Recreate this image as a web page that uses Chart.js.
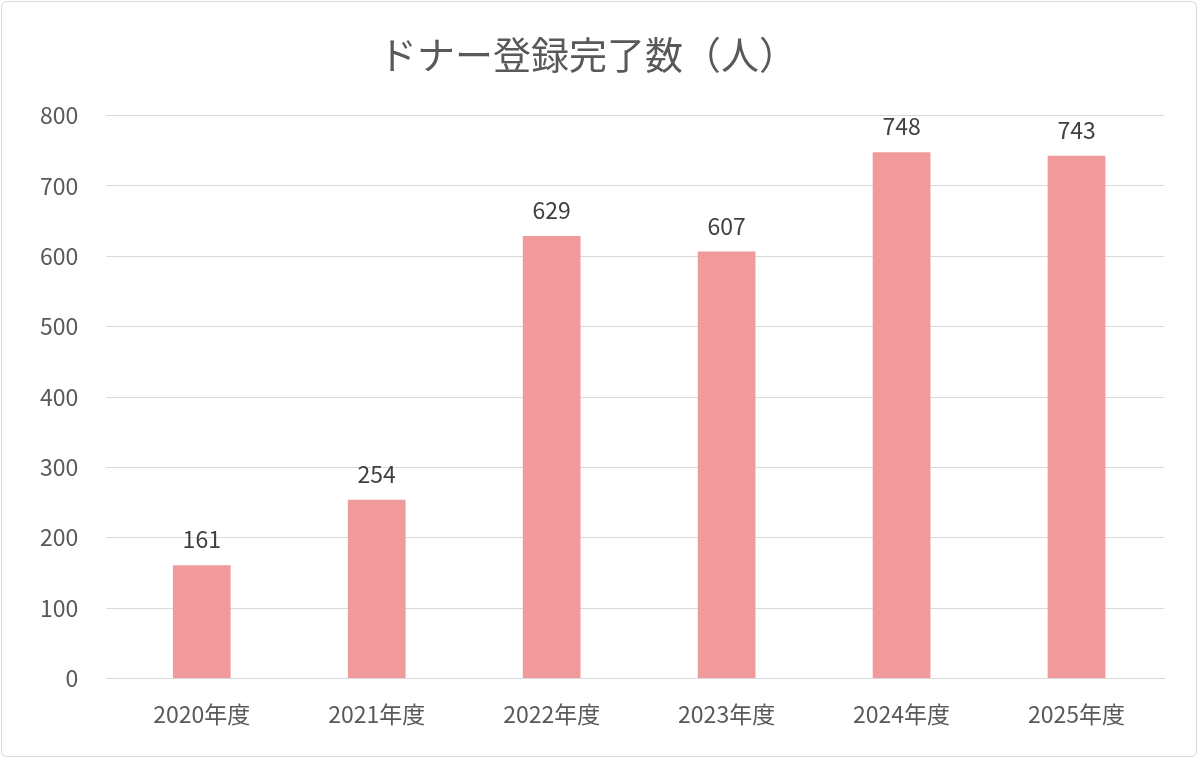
<!DOCTYPE html>
<html><head><meta charset="utf-8">
<script src="https://cdn.jsdelivr.net/npm/chart.js@4"></script>
<style>
html,body{margin:0;padding:0;background:#fff;}
#wrap{position:absolute;left:1px;top:1px;width:1196px;height:756px;border:1px solid #d9d9d9;border-radius:6px;box-sizing:border-box;}
canvas{display:block;}
</style></head>
<body><div id="wrap"><canvas id="c" width="1194" height="754"></canvas></div>
<script>
const categories = ["2020年度","2021年度","2022年度","2023年度","2024年度","2025年度"];
const values = [161, 254, 629, 607, 748, 743];
const yTicks = [0,100,200,300,400,500,600,700,800];
const FONT = "'Noto Sans CJK JP','Noto Sans',sans-serif";
const labelPlugin = {
  id:'vals',
  afterDatasetsDraw(chart){
    const ctx = chart.ctx;
    const meta = chart.getDatasetMeta(0);
    ctx.save();
    ctx.font = "23px " + FONT;
    ctx.fillStyle = "#404040";
    ctx.textAlign = "center";
    ctx.textBaseline = "bottom";
    meta.data.forEach((b,i)=>{ ctx.fillText(String(values[i]), b.x, b.y - 14); });
    ctx.restore();
  }
};
new Chart(document.getElementById('c'),{
  type:'bar',
  data:{labels:categories,datasets:[{data:values,backgroundColor:'#F09A9C',categoryPercentage:1,barPercentage:0.33}]},
  options:{
    responsive:false,animation:false,
    layout:{padding:{left:10,right:32,top:10,bottom:14}},
    plugins:{legend:{display:false},tooltip:{enabled:false},
      title:{display:true,text:'ドナー登録完了数（人）',color:'#595959',font:{family:FONT,size:38,weight:'normal'},padding:{top:20,bottom:38}}},
    scales:{
      x:{grid:{display:false},border:{color:'#d9d9d9'},ticks:{color:'#595959',font:{family:FONT,size:23},padding:14}},
      y:{min:0,max:800,afterBuildTicks(ax){ax.ticks=yTicks.map(v=>({value:v}));},
        grid:{color:'#d9d9d9'},border:{display:false},
        ticks:{color:'#595959',font:{family:FONT,size:23},padding:28}}
    }
  },
  plugins:[labelPlugin]
});
</script></body></html>
